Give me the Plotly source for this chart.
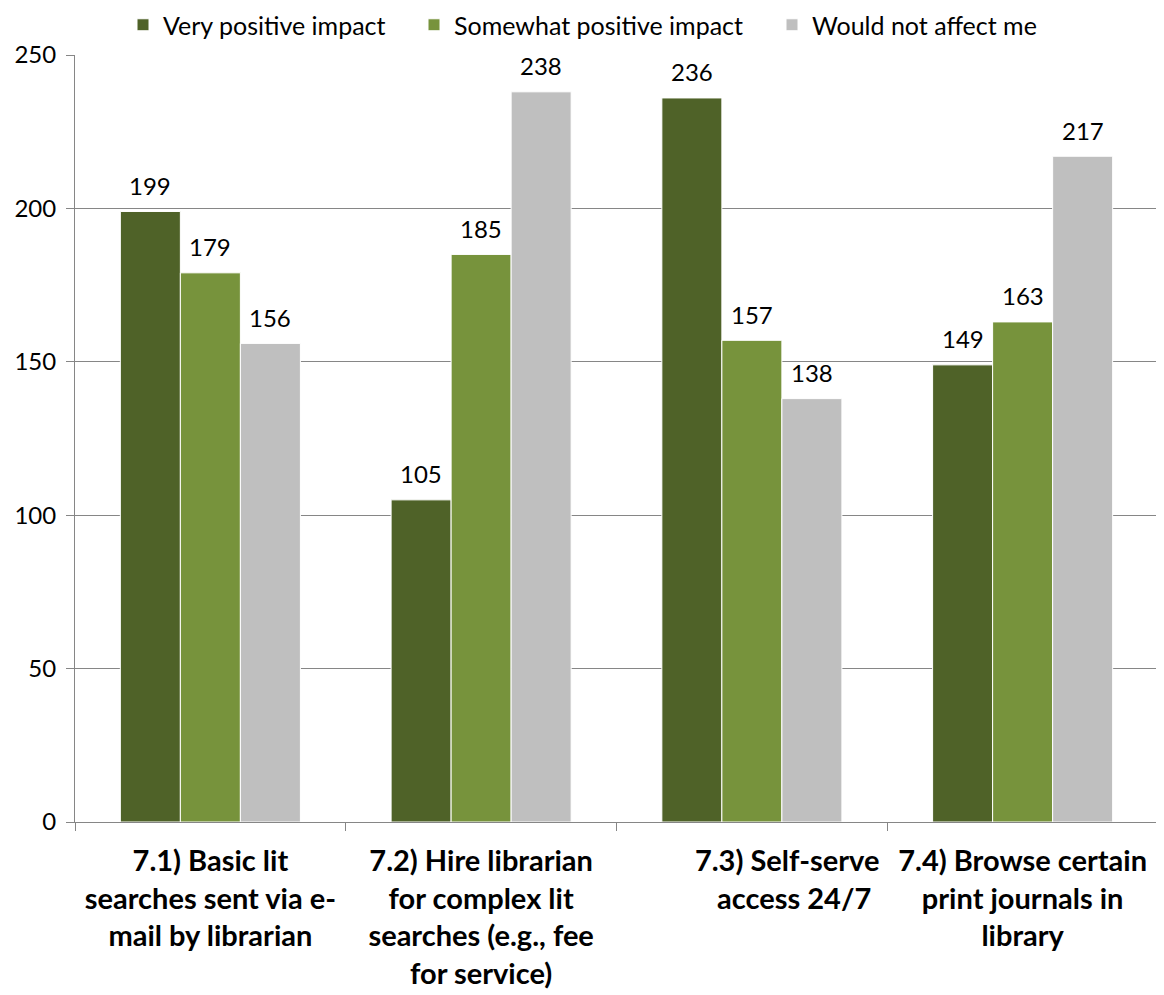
import plotly.graph_objects as go

categories = [
    "7.1) Basic lit<br>searches sent via e-<br>mail by librarian",
    "7.2) Hire librarian<br>for complex lit<br>searches (e.g., fee<br>for service)",
    "&nbsp;&nbsp;&nbsp;&nbsp;&nbsp;&nbsp;&nbsp;&nbsp;&nbsp;&nbsp;7.3) Self-serve<br>&nbsp;&nbsp;&nbsp;&nbsp;&nbsp;&nbsp;&nbsp;&nbsp;&nbsp;&nbsp;&nbsp;&nbsp;access 24/7",
    "7.4) Browse certain<br>print journals in<br>library",
]
series_names = ["Very positive impact", "Somewhat positive impact", "Would not affect me"]
very_positive = [199, 105, 236, 149]
somewhat_positive = [179, 185, 157, 163]
not_affect = [156, 238, 138, 217]
colors = ["#4F6228", "#77933C", "#BFBFBF"]
y_ticks = [0, 50, 100, 150, 200, 250]

FONT = "Lato, Open Sans, sans-serif"
# page body adds an 8px offset; size the figure to compensate
W, H = 1156, 987
ML, MR, MT, MB = 67, 6, 47, 173
BARGAP = 0.335
plot_w = W - ML - MR
plot_h = H - MT - MB

all_series = [very_positive, somewhat_positive, not_affect]
legend_ids = ["legend", "legend2", "legend3"]
legend_left_px = [48, 339, 697]  # legend box left, px from plot left

fig = go.Figure()
for name, vals, col, lg in zip(series_names, all_series, colors, legend_ids):
    fig.add_trace(go.Bar(
        name=name, x=categories, y=vals, legend=lg,
        marker=dict(color=col, line=dict(color="white", width=1)),
    ))

bar_px = plot_w / len(categories) * (1 - BARGAP) / len(all_series)
for i, vals in enumerate(all_series):
    for cat, v in zip(categories, vals):
        fig.add_annotation(
            x=cat, y=v, xref="x", yref="y", text=str(v), showarrow=False,
            xshift=(i - (len(all_series) - 1) / 2) * bar_px, yshift=26,
            yanchor="middle", font=dict(size=24, family=FONT, color="black"),
        )

legend_style = dict(orientation="h", xanchor="left", y=1 + 30 / plot_h, yanchor="middle",
                    font=dict(size=25, family=FONT, color="black"), bgcolor="rgba(0,0,0,0)")
layout_legends = {}
for lg, lx in zip(legend_ids, legend_left_px):
    layout_legends[lg] = dict(legend_style, x=lx / plot_w)

fig.update_layout(
    width=W, height=H,
    margin=dict(l=ML, r=MR, t=MT, b=MB, autoexpand=False),
    paper_bgcolor="white", plot_bgcolor="white",
    barmode="group", bargap=BARGAP, bargroupgap=0,
    font=dict(family=FONT, size=24, color="black"),
    showlegend=True,
    **layout_legends,
)
fig.update_yaxes(
    range=[0, 250], tickvals=y_ticks, showgrid=True, gridcolor="#868686", gridwidth=1,
    showline=True, linecolor="#868686", linewidth=1, ticks="outside", ticklen=8,
    tickcolor="#868686", tickfont=dict(size=24, family=FONT, color="black"), zeroline=False,
    automargin=False, ticklabelstandoff=5,
)
fig.update_xaxes(
    showline=True, linecolor="#868686", linewidth=1, ticks="outside", ticklen=8,
    tickcolor="#868686", tickson="boundaries", tickangle=0,
    tickfont=dict(size=29, family=FONT, color="black"),
    tickprefix="<b>", ticksuffix="</b>", automargin=False, ticklabelstandoff=13,
)

fig.write_html("out.html")
